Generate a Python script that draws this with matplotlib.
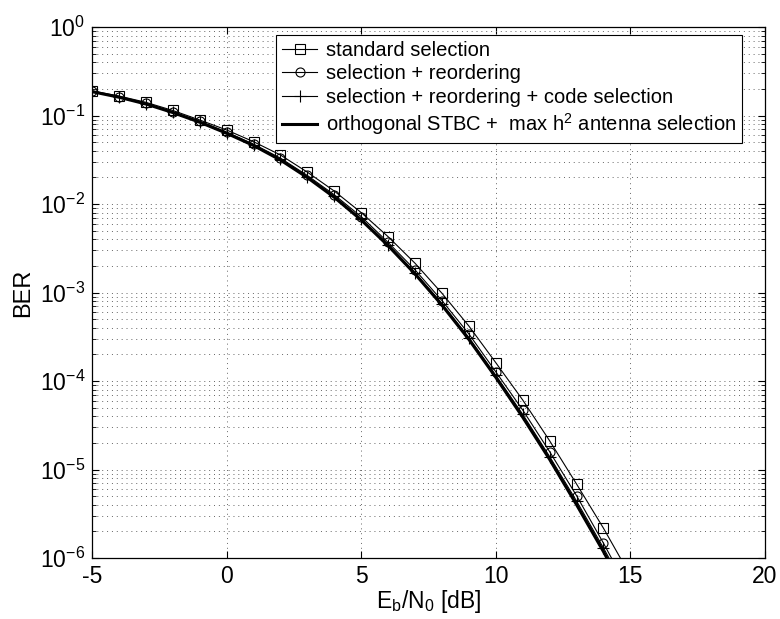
import numpy as np
import matplotlib
matplotlib.use("Agg")
import matplotlib.pyplot as plt
from matplotlib.ticker import LogLocator, NullFormatter, MultipleLocator

plt.rcParams['font.family'] = ['Liberation Sans', 'DejaVu Sans']
plt.rcParams['mathtext.fontset'] = 'custom'
plt.rcParams['mathtext.rm'] = 'Liberation Sans'
plt.rcParams['mathtext.it'] = 'Liberation Sans'
plt.rcParams['axes.unicode_minus'] = False

snr_db = [-5, -4, -3, -2, -1, 0, 1, 2, 3, 4, 5, 6, 7, 8, 9, 10, 11, 12, 13, 14, 15]

ber_standard = [0.19, 0.166, 0.141, 0.114, 0.089, 0.0686, 0.0506, 0.0358, 0.0229, 0.0140,
                0.0080, 0.00427, 0.00214, 9.8e-4, 4.18e-4, 1.61e-4, 6.1e-5, 2.11e-5,
                6.85e-6, 2.17e-6, 6.3e-7]
ber_reorder = [0.188, 0.163, 0.137, 0.110, 0.086, 0.065, 0.0475, 0.0330, 0.0210, 0.0127,
               0.0072, 0.00368, 0.00180, 8.1e-4, 3.4e-4, 1.27e-4, 4.7e-5, 1.59e-5,
               5.06e-6, 1.47e-6, 4.0e-7]
ber_codesel = [0.187, 0.162, 0.136, 0.109, 0.085, 0.064, 0.0465, 0.0320, 0.0203, 0.0122,
               0.0068, 0.00348, 0.00168, 7.5e-4, 3.1e-4, 1.16e-4, 4.2e-5, 1.4e-5,
               4.4e-6, 1.3e-6, 3.6e-7]
ber_ostbc = [0.186, 0.161, 0.135, 0.108, 0.084, 0.063, 0.0458, 0.0314, 0.0199, 0.0119,
             0.0066, 0.00338, 0.00162, 7.2e-4, 2.95e-4, 1.1e-4, 3.9e-5, 1.3e-5,
             4.0e-6, 1.18e-6, 3.2e-7]

labels = ['standard selection',
          'selection + reordering',
          'selection + reordering + code selection',
          'orthogonal STBC +  max h$^2$ antenna selection']

fig = plt.figure(figsize=(7.8, 6.19), dpi=100)
ax = fig.add_axes([92 / 780, 61 / 619, 673 / 780, 531 / 619])

ax.semilogy(snr_db, ber_standard, 'k-', marker='s', mfc='none', ms=6.5, mew=0.8, lw=0.8, label=labels[0])
ax.semilogy(snr_db, ber_reorder, 'k-', marker='o', mfc='none', ms=6.5, mew=0.8, lw=0.8, label=labels[1])
ax.semilogy(snr_db, ber_codesel, 'k-', marker='+', ms=9, mew=0.8, lw=0.8, label=labels[2])
ax.semilogy(snr_db, ber_ostbc, 'k-', lw=2.2, label=labels[3])

ax.set_xlim(-5, 20)
ax.set_ylim(1e-6, 1)
ax.xaxis.set_major_locator(MultipleLocator(5))
ax.yaxis.set_major_locator(LogLocator(base=10, numticks=10))
ax.yaxis.set_minor_locator(LogLocator(base=10, subs=np.arange(2, 10), numticks=20))
ax.yaxis.set_minor_formatter(NullFormatter())

dots = (0, (1, 4))
ax.grid(True, which='major', axis='both', color='0.4', linestyle=dots, lw=0.7)
ax.grid(True, which='minor', axis='y', color='0.4', linestyle=dots, lw=0.7)

ax.tick_params(which='both', direction='in', top=True, right=True, labelsize=16.5, colors='k')
ax.tick_params(which='major', length=5, width=0.8, pad=5)
ax.tick_params(which='minor', length=3, width=0.6)
for s in ax.spines.values():
    s.set_linewidth(0.9)

ax.set_xlabel('E$_b$/N$_0$ [dB]', fontsize=16.5, labelpad=0)
ax.set_ylabel('BER', fontsize=17, labelpad=4)

leg = ax.legend(loc='upper right', bbox_to_anchor=(0.966, 0.985), borderaxespad=0,
                fancybox=False, edgecolor='k', framealpha=1, fontsize=14.5,
                handlelength=1.7, handletextpad=0.45, labelspacing=0.22, borderpad=0.3)
leg.get_frame().set_linewidth(0.8)

fig.savefig('out.png', dpi=100)
